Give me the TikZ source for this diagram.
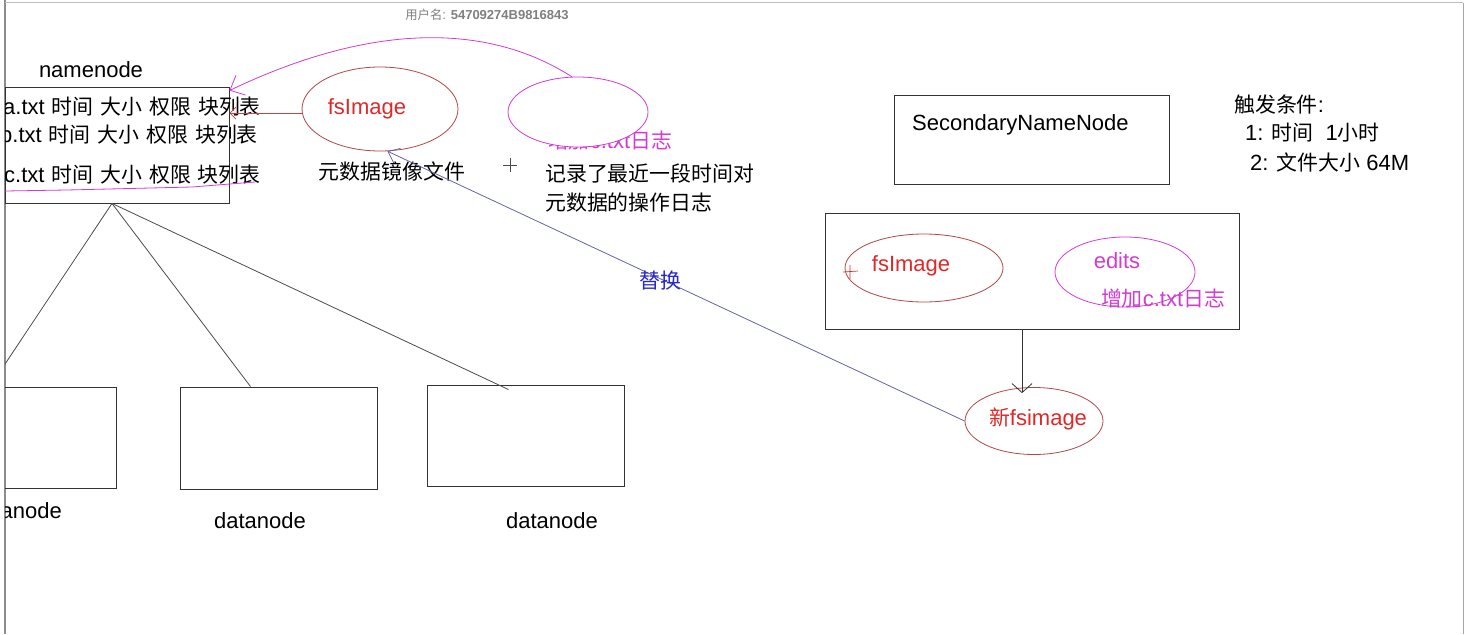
\documentclass[tikz,border=0pt]{standalone}
\usepackage{fontspec}
\setmainfont{Liberation Sans}
\newfontfamily\zhfont[Scale=0.95]{Noto Sans CJK SC}
\newcommand{\zh}[1]{{\zhfont #1}}
\newcommand{\gap}{\hspace{7pt}}
\usetikzlibrary{arrows.meta,positioning,shapes.geometric,calc}
\definecolor{imgred}{HTML}{E02828}
\definecolor{ovalred}{HTML}{B04848}
\definecolor{linered}{HTML}{D04040}
\definecolor{editpink}{HTML}{D23CD2}
\definecolor{swapblue}{HTML}{6464A8}
\definecolor{swaptext}{HTML}{2828C8}
\definecolor{framegray}{HTML}{8C8C8C}
\tikzset{
  box/.style={draw=black!80,line width=0.9pt,inner sep=0pt},
  word/.style={inner sep=0pt,font=\fontsize{22}{26}\selectfont},
  rowtext/.style={word,anchor=west},
  imgoval/.style={ellipse,draw=ovalred,line width=0.8pt,inner sep=0pt},
  editoval/.style={ellipse,draw=editpink,line width=0.8pt,inner sep=0pt},
  openarrow/.style={-{Straight Barb[length=9pt,width=20pt]},line width=0.8pt},
  treeline/.style={draw=black!70,line width=0.8pt}
}

\begin{document}
\begin{tikzpicture}[x=1pt,y=-1pt]
\useasboundingbox (0,0) rectangle (1471,634);
\fill[white] (0,0) rectangle (1471,634);

% window frame and watermark
\draw[framegray,line width=1.5pt] (5,0) -- (5,634);
\draw[black!25,line width=1pt] (5,3) -- (1463,3);
\draw[black!35,line width=1pt] (1463,3) -- (1463,634);
\node[inner sep=0pt,text=black!50,font=\fontsize{13}{15}\selectfont] (mark) at (487,15) {\zh{用户名}: \textbf{54709274B9816843}};

\begin{scope}
\clip (5,0) rectangle (1471,634);

% namenode side
\node[word] (nnlabel) at (91,70) {namenode};
\node[box,minimum width=224pt,minimum height=116pt] (namenode) at (117,145) {};
\node[rowtext] (rowa) at (3,107) {a.txt\gap\zh{时间}\gap\zh{大小}\gap\zh{权限}\gap\zh{块列表}};
\node[rowtext] (rowb) at (0,135) {b.txt\gap\zh{时间}\gap\zh{大小}\gap\zh{权限}\gap\zh{块列表}};
\node[rowtext] (rowc) at (4,175) {c.txt\gap\zh{时间}\gap\zh{大小}\gap\zh{权限}\gap\zh{块列表}};
\draw[editpink,line width=0.8pt] (5,191) -- (67,190) -- (192,187) -- (255,182);

\node[imgoval,minimum width=156pt,minimum height=84pt] (fsimg) at (380,109) {};
\node[word,text=imgred] (fsimgtext) at (367,109) {fsImage};
\node[word] (fsimgnote) at (392,172) {\zh{元数据镜像文件}};

\node[word,text=editpink] (editnote) at (610,141) {\zh{增加}c.txt\zh{日志}};
\node[editoval,fill=white,minimum width=140pt,minimum height=70pt] (editsone) at (578,112) {};
\draw[black!70,line width=0.8pt] (503,165) -- (517,165) (510,158) -- (510,172);
\node[rowtext] (lognote1) at (545,174) {\zh{记录了最近一段时间对}};
\node[rowtext] (lognote2) at (545,203) {\zh{元数据的操作日志}};

\draw[linered,line width=0.8pt,-{Straight Barb[length=6pt,width=12pt]}] (fsimg.183) -- (fsimg.183 -| namenode.east);
\draw[editpink,line width=0.8pt,-{Straight Barb[length=12pt,width=22pt]}] (editsone.100) .. controls (480,18) and (360,28) .. ([yshift=-4pt]namenode.north east);

% datanodes
\node[box,minimum width=216pt,minimum height=101pt] (dn1) at (8,437.5) {};
\node[box,minimum width=197pt,minimum height=102pt] (dn2) at (278.5,438) {};
\node[box,minimum width=197pt,minimum height=101pt] (dn3) at (525.5,435.5) {};
\node[word] (dn1label) at (16,511) {datanode};
\node[word] (dn2label) at (260,521) {datanode};
\node[word] (dn3label) at (552,521) {datanode};
\draw[treeline] ([xshift=-5pt]namenode.south) -- ([xshift=-18pt]dn1.north);
\draw[treeline] ([xshift=-5pt]namenode.south) -- ([xshift=-28pt]dn2.north);
\draw[treeline] ([xshift=-5pt]namenode.south) -- ([xshift=-17pt,yshift=-5pt]dn3.north);

% secondary namenode side
\node[box,minimum width=275pt,minimum height=89pt] (snn) at (1031.5,139.5) {};
\node[rowtext] (snnlabel) at (912,125) {SecondaryNameNode};
\node[rowtext] (trig) at (1234,105) {\zh{触发条件}:};
\node[rowtext] (trig1) at (1245,133) {1: \zh{时间}\ \ 1\zh{小时}};
\node[rowtext] (trig2) at (1250,162) {2: \zh{文件大小} 64M};

\node[box,minimum width=414pt,minimum height=116pt] (ckbox) at (1032,271) {};
\node[imgoval,minimum width=158pt,minimum height=68pt] (fsimgtwo) at (924,268) {};
\node[word,text=imgred] (fsimgtwotext) at (911,266) {fsImage};
\draw[imgred,line width=0.7pt] (843,272) -- (858,271) (850,265) -- (850,279);
\node[editoval,minimum width=140pt,minimum height=70pt] (editstwo) at (1125,272) {};
\node[word,text=editpink] (editstwotext) at (1117,261) {edits};
\node[word,text=editpink] (editstwonote) at (1163,299) {\zh{增加}c.txt\zh{日志}};

\node[imgoval,minimum width=138pt,minimum height=67pt] (newimg) at (1034,421) {};
\node[word,text=imgred] (newimgtext) at (1038,419) {\zh{新}fsimage};
\draw[openarrow,black!80] ([xshift=-10pt]ckbox.south) -- ([xshift=-12pt,yshift=-6pt]newimg.north);

% replace
\draw[swapblue,line width=0.8pt,-{Straight Barb[length=10pt,width=16pt]}] (newimg.west) -- (fsimg.280);
\node[word,text=swaptext] (swaplabel) at (660,281) {\zh{替换}};
\end{scope}
\end{tikzpicture}
\end{document}
